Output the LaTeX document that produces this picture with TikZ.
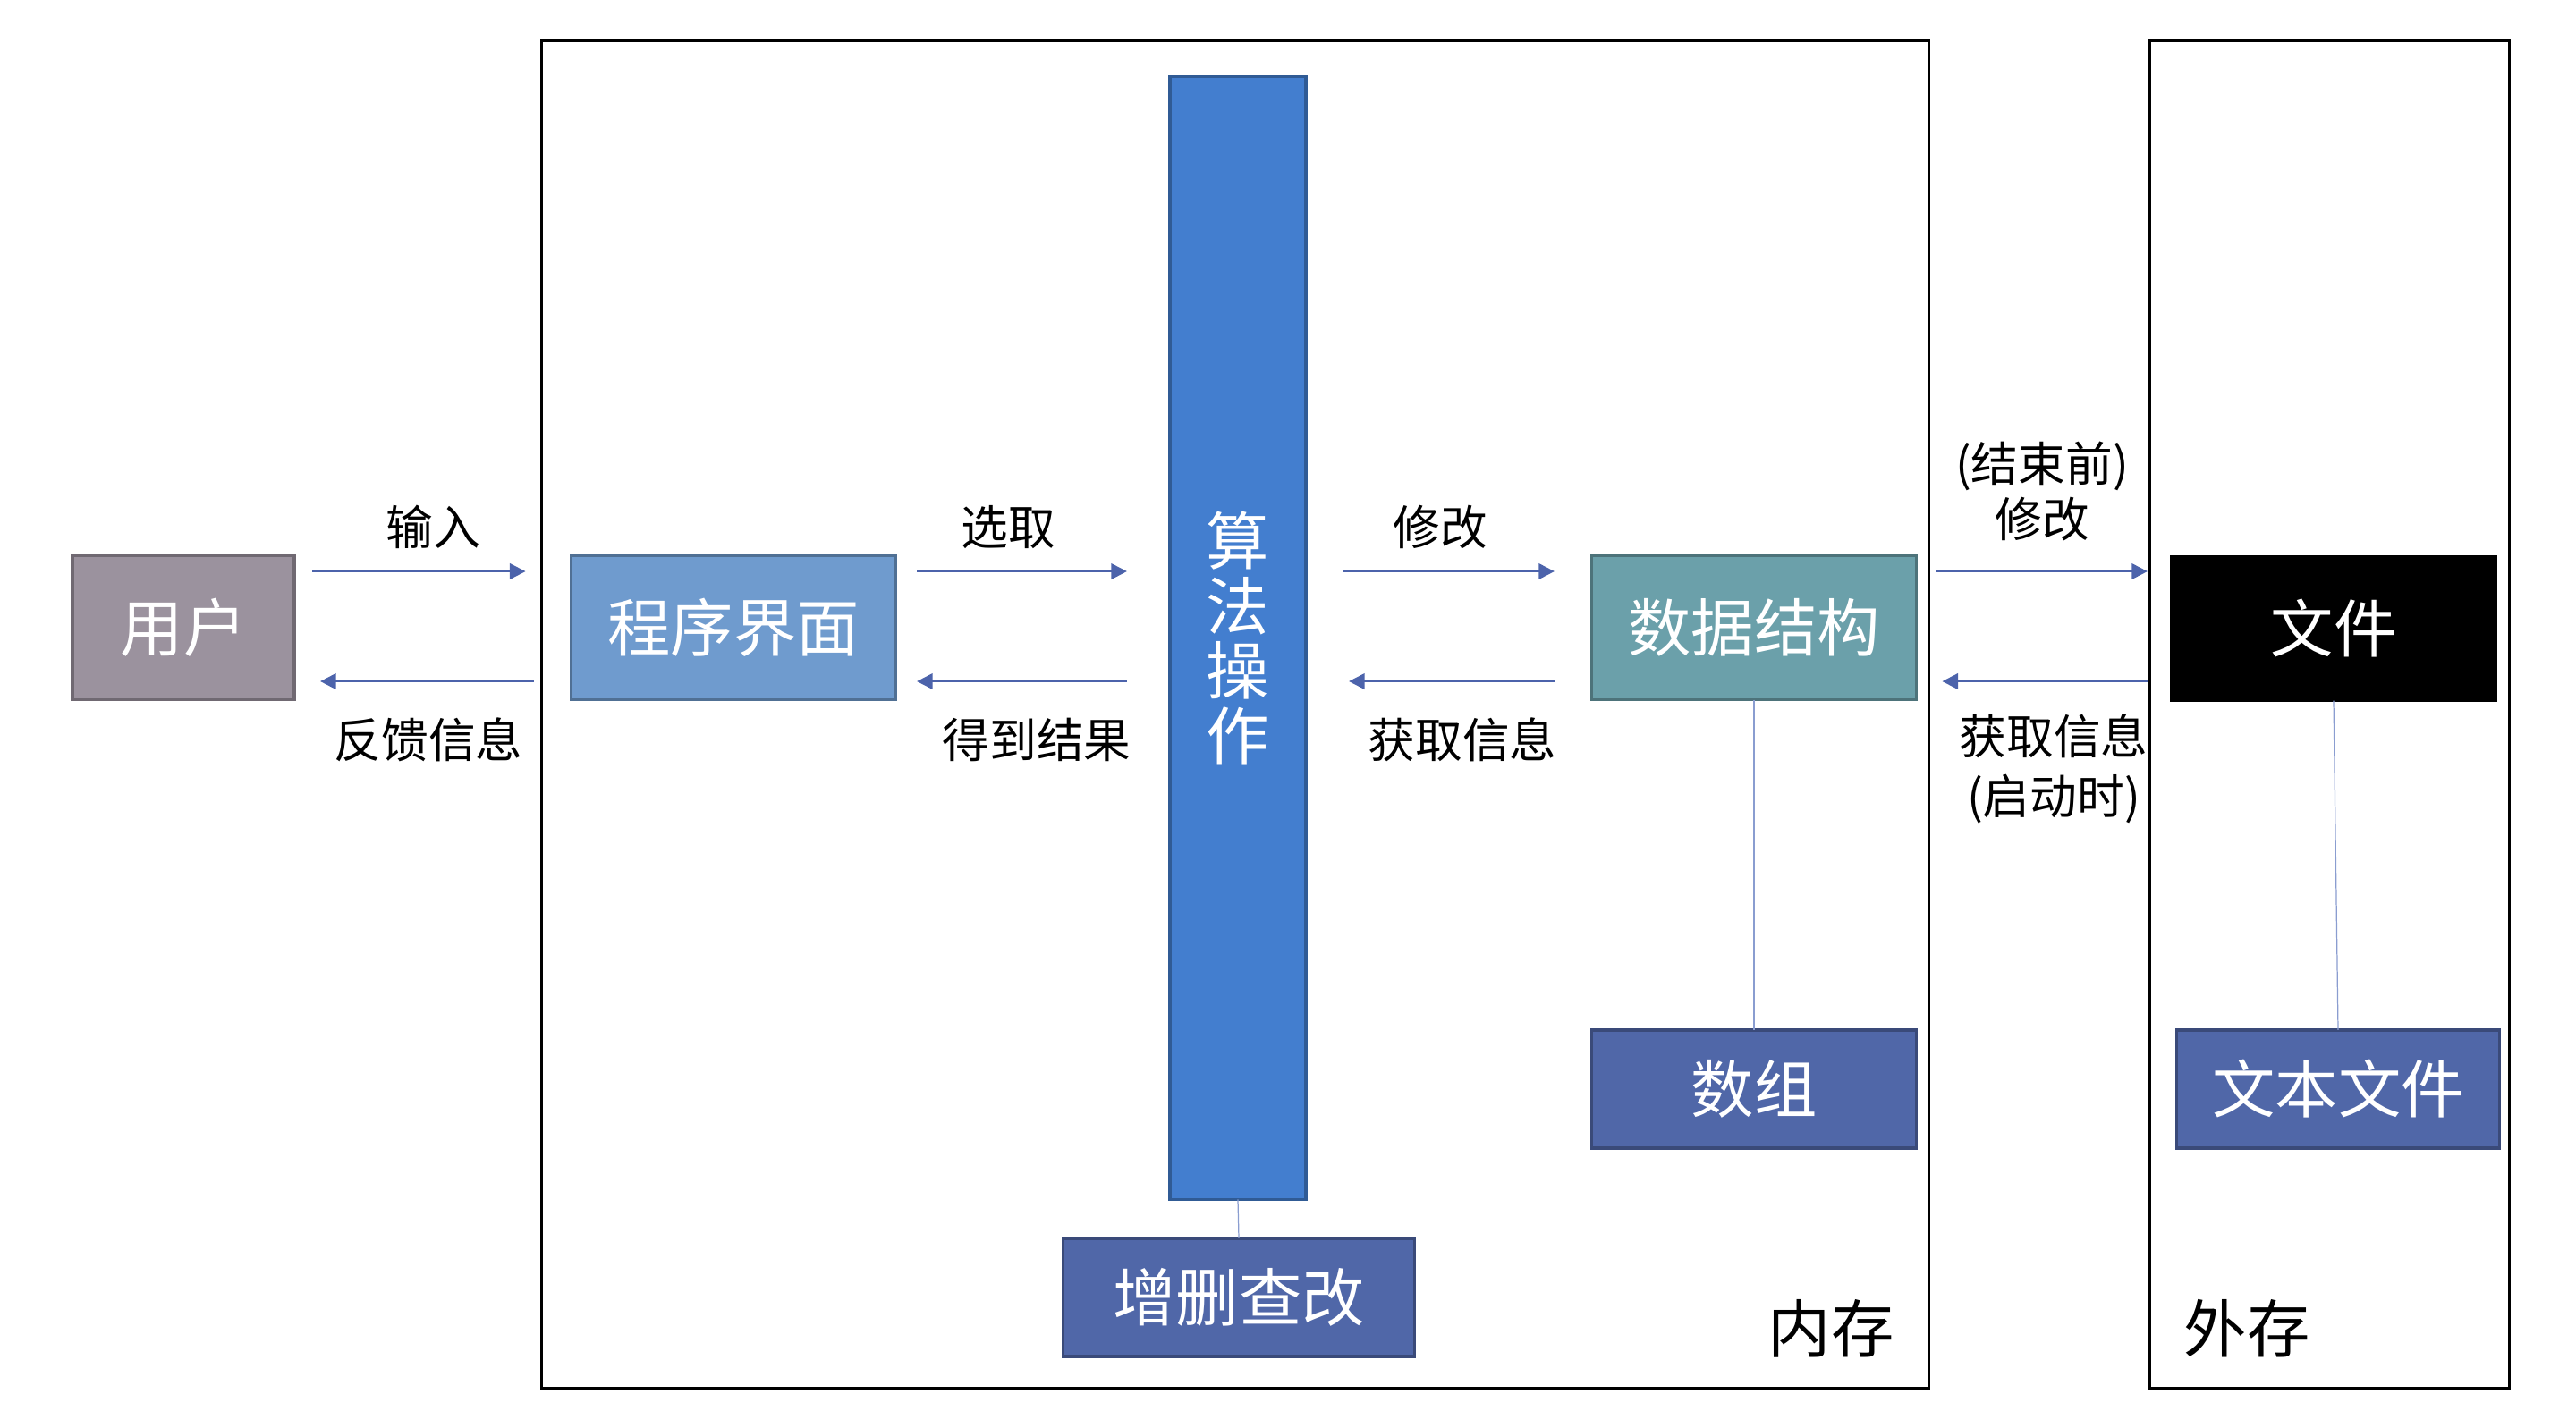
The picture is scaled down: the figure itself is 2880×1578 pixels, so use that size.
\documentclass[tikz,border=0pt]{standalone}
\usepackage{fontspec}
\setmainfont{Noto Sans CJK SC}
\usetikzlibrary{positioning, arrows.meta, calc}
\definecolor{usergrey}{RGB}{155,146,158}
\definecolor{uiblue}{RGB}{111,155,206}
\definecolor{algoblue}{RGB}{67,126,207}
\definecolor{opblue}{RGB}{80,103,168}
\definecolor{dsteal}{RGB}{107,160,170}
\definecolor{arrowblue}{RGB}{76,99,171}
\definecolor{linkblue}{RGB}{138,157,208}
\tikzset{
    block/.style={rectangle, fill=#1, draw=#1!72!black, line width=0.9pt, text=white, align=center, inner sep=0pt, outer sep=0pt, font=\fontsize{20}{20.7}\selectfont},
    filebox/.style={rectangle, fill=black, draw=black, line width=0.9pt, text=white, align=center, inner sep=0pt, outer sep=0pt, font=\fontsize{20}{20.7}\selectfont},
    frame/.style={rectangle, draw=black, line width=0.9pt, inner sep=0pt, outer sep=0pt},
    lbl/.style={font=\fontsize{15}{18}\selectfont, align=center, inner sep=0pt},
    arealbl/.style={font=\fontsize{20}{24}\selectfont, inner sep=0pt},
    arr/.style={-{Triangle[length=5pt, width=5pt]}, line width=0.6pt, color=arrowblue},
    link/.style={line width=0.35pt, color=linkblue}
}
\begin{document}
\begin{tikzpicture}[x=0.01cm, y=-0.01cm]
        \useasboundingbox (0,0) rectangle (2880,1578);

        % Memory and storage frames
        \node[frame, minimum width=15.5cm, minimum height=15.06cm] (mem) at (1381,799) {};
        \node[frame, minimum width=4.01cm, minimum height=15.06cm] (ext) at (2604.5,799) {};
        \node[arealbl] (memlbl) at (2047,1486) {内存};
        \node[arealbl] (extlbl) at (2512,1486) {外存};

        % Blocks
        \node[block=usergrey, minimum width=2.48cm, minimum height=1.61cm] (user) at (205,702) {用户};
        \node[block=uiblue, minimum width=3.62cm, minimum height=1.61cm] (ui) at (820,702) {程序界面};
        \node[block=algoblue, minimum width=1.52cm, minimum height=12.55cm] (algo) at (1384,713.5) {算\\法\\操\\作};
        \node[block=opblue, minimum width=3.93cm, minimum height=1.32cm] (crud) at (1385,1451) {增删查改};
        \node[block=dsteal, minimum width=3.62cm, minimum height=1.61cm] (ds) at (1961,702) {数据结构};
        \node[block=opblue, minimum width=3.62cm, minimum height=1.32cm] (array) at (1961,1218) {数组};
        \node[filebox, minimum width=3.62cm, minimum height=1.61cm] (file) at (2609,703) {文件};
        \node[block=opblue, minimum width=3.61cm, minimum height=1.32cm] (txt) at (2614,1218) {文本文件};

        % Links
        \draw[link] (algo.south) -- (crud.north);
        \draw[link] (ds.south) -- (array.north);
        \draw[link] (file.south) -- (txt.north);

        % Arrow rows
        \coordinate (top) at (0,639);
        \coordinate (bot) at (0,762);

        \draw[arr, shorten <=.2cm, shorten >=.18cm] (user.east |- top) -- (mem.west |- top);
        \draw[arr, shorten <=.09cm, shorten >=.29cm] (mem.west |- bot) -- (user.east |- bot);
        \draw[arr, shorten <=.24cm, shorten >=.48cm] (ui.east |- top) -- (algo.west |- top);
        \draw[arr, shorten <=.48cm, shorten >=.24cm] (algo.west |- bot) -- (ui.east |- bot);
        \draw[arr, shorten <=.41cm, shorten >=.42cm] (algo.east |- top) -- (ds.west |- top);
        \draw[arr, shorten <=.42cm, shorten >=.48cm] (ds.west |- bot) -- (algo.east |- bot);
        \draw[arr, shorten <=.08cm, shorten >=.03cm] (mem.east |- top) -- (ext.west |- top);
        \draw[arr, shorten <=.03cm, shorten >=.15cm] (ext.west |- bot) -- (mem.east |- bot);

        % Arrow labels
        \node[lbl] (l1) at (484,589) {输入};
        \node[lbl] (l2) at (479,827) {反馈信息};
        \node[lbl] (l3) at (1127,590) {选取};
        \node[lbl] (l4) at (1159,827) {得到结果};
        \node[lbl] (l5) at (1610,590) {修改};
        \node[lbl] (l6) at (1635,827) {获取信息};
        \node[lbl, font=\fontsize{15}{17.6}\selectfont] (l7) at (2283,549) {(结束前)\\修改};
        \node[lbl, font=\fontsize{15}{19}\selectfont] (l8) at (2296,860) {获取信息\\(启动时)};

    \end{tikzpicture}
\end{document}
